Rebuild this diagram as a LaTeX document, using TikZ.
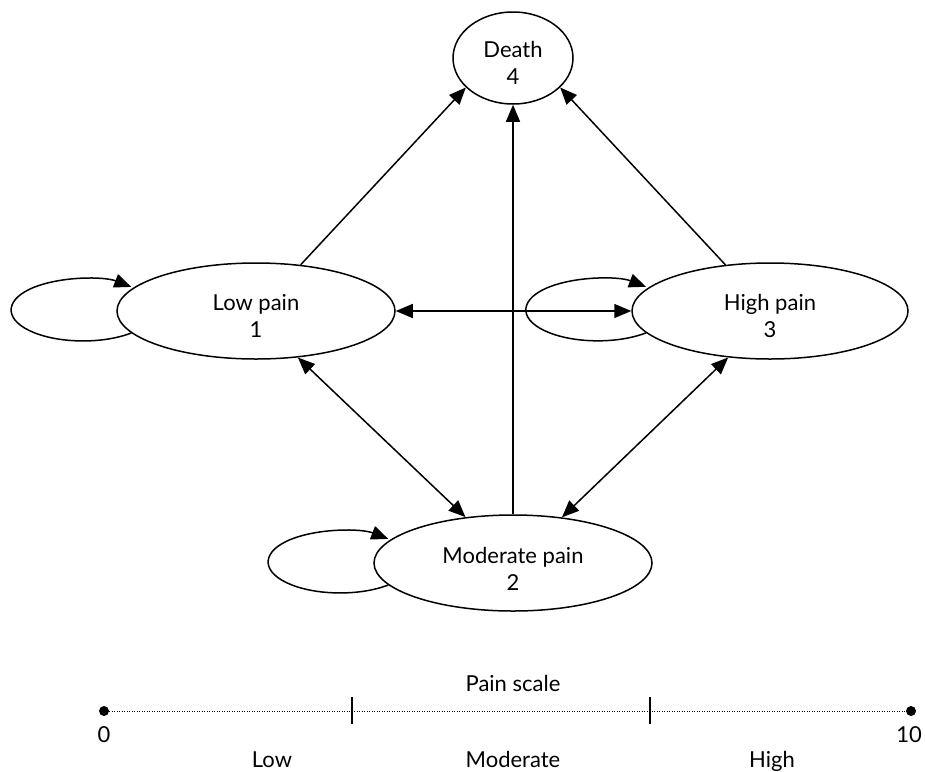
\documentclass[tikz,border=0pt]{standalone}
\usepackage{fontspec}
\setmainfont{Lato}
\usetikzlibrary{arrows.meta,shapes.geometric}
\begin{document}
\begin{tikzpicture}[x=1pt,y=-1pt,
  font=\fontsize{22}{27}\selectfont,
  st/.style={draw, ellipse, line width=1.5pt, fill=white, inner sep=0pt},
  lab/.style={align=center, inner sep=0pt},
  arr/.style={line width=1.5pt, -{Triangle[length=17pt,width=14pt]}},
  darr/.style={line width=1.5pt, {Triangle[length=17pt,width=14pt]}-{Triangle[length=17pt,width=14pt]}},
  selfloop/.style={line width=1.5pt, -{Triangle[length=17pt,width=14pt]}},
  dotend/.style={circle, fill, inner sep=0pt, minimum size=10pt},
  tick/.style={line width=1.3pt}]
\useasboundingbox (0,0) rectangle (925,771);
% states
\node[st, minimum width=278pt, minimum height=96pt] (low) at (256,311) {};
\node[st, minimum width=276pt, minimum height=96pt] (high) at (770,311) {};
\node[st, minimum width=278pt, minimum height=96pt] (mod) at (513,563) {};
\node[st, minimum width=120pt, minimum height=92pt] (death) at (513,58) {};
\node[lab] (lowt) at ([yshift=-5pt]low.center) {Low pain\\1};
\node[lab] (hight) at ([yshift=-5pt]high.center) {High pain\\3};
\node[lab] (modt) at ([yshift=-6pt]mod.center) {Moderate pain\\2};
\node[lab] (deatht) at ([yshift=-5pt]death.center) {Death\\4};
% self loops
\draw[selfloop] (low.190) arc[start angle=48, end angle=312, x radius=72, y radius=31];
\draw[selfloop] (high.190) arc[start angle=48, end angle=312, x radius=72, y radius=31];
\draw[selfloop] (mod.190) arc[start angle=48, end angle=312, x radius=72, y radius=31];
% transitions
\draw[arr] (low.46) -- (death.212);
\draw[arr] (high.134) -- (death.328);
\draw[arr] (mod.north) -- (death.south);
\draw[darr] (low.east) -- (high.west);
\draw[darr] (low.312) -- (mod.136);
\draw[darr] (high.228) -- (mod.43);
% pain scale
\node[dotend] (s0) at (104,711) {};
\node[dotend] (s10) at (911,711) {};
\draw[line width=1pt, dash pattern=on 1pt off 1.5pt] (s0) -- (s10);
\coordinate (t1a) at (352,697); \coordinate (t1b) at (352,724);
\coordinate (t2a) at (650,697); \coordinate (t2b) at (650,724);
\draw[tick] (t1a) -- (t1b);
\draw[tick] (t2a) -- (t2b);
\node[anchor=base] (ps) at (513,691) {Pain scale};
\node[anchor=base] (zero) at (104,742) {0};
\node[anchor=base] (ten) at (909,742) {10};
\node[anchor=base] (lo) at (272,767) {Low};
\node[anchor=base] (mo) at (513,767) {Moderate};
\node[anchor=base] (hi) at (772,767) {High};
\end{tikzpicture}
\end{document}
